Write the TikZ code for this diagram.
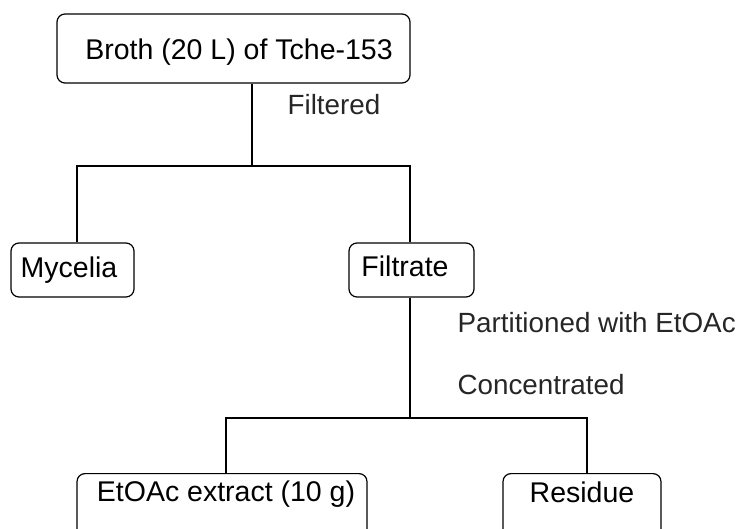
\documentclass[tikz,border=0pt]{standalone}
\usepackage{fontspec}
\setmainfont{Liberation Sans}
\begin{document}
\begin{tikzpicture}[x=1pt,y=-1pt,
  line width=1.2pt,
  box/.style={draw, rounded corners=8pt, inner sep=0pt},
  boxtext/.style={anchor=base, inner sep=0pt, font=\fontsize{28.5}{32}\selectfont},
  lbl/.style={anchor=base west, inner sep=0pt, font=\fontsize{27.8}{32}\selectfont, text=black!85}]
  \useasboundingbox (0,0) rectangle (739,529);
  \clip (0,0) rectangle (739,529);
  % boxes
  \node[box, minimum width=353pt, minimum height=69pt] (broth) at (233.5,48.5) {};
  \node[box, minimum width=123pt, minimum height=54pt] (myc) at (72.5,270) {};
  \node[box, minimum width=125pt, minimum height=54pt] (filt) at (411.5,270) {};
  \node[box, minimum width=290pt, minimum height=80pt, anchor=north] (ext) at (222,473) {};
  \node[box, minimum width=158pt, minimum height=80pt, anchor=north] (res) at (582,473) {};
  % box texts
  \node[boxtext] (brotht) at (239,60) {Broth (20 L) of Tche-153};
  \node[boxtext] (myct) at (69,278) {Mycelia};
  \node[boxtext] (filtt) at (405,277) {Filtrate};
  \node[boxtext] (extt) at (226,501.5) {EtOAc extract (10 g)};
  \node[boxtext] (rest) at (582,502.5) {Residue};
  % junction points
  \coordinate (j1) at (252,166);
  \coordinate (l1) at (77,166);
  \coordinate (r1) at (410,166);
  \coordinate (j2) at (410,418);
  \coordinate (l2) at (226,418);
  \coordinate (r2) at (587,418);
  % connectors
  \draw (j1 |- broth.south) -- (j1);
  \draw (l1 |- myc.north) -- (l1) -- (r1) -- (r1 |- filt.north);
  \draw (j2 |- filt.south) -- (j2);
  \draw (l2 |- ext.north) -- (l2) -- (r2) -- (r2 |- res.north);
  % step labels
  \node[lbl] (f1) at (287,115) {Filtered};
  \node[lbl] (f2) at (457,332.5) {Partitioned with EtOAc};
  \node[lbl] (f3) at (457,394) {Concentrated};
\end{tikzpicture}
\end{document}
